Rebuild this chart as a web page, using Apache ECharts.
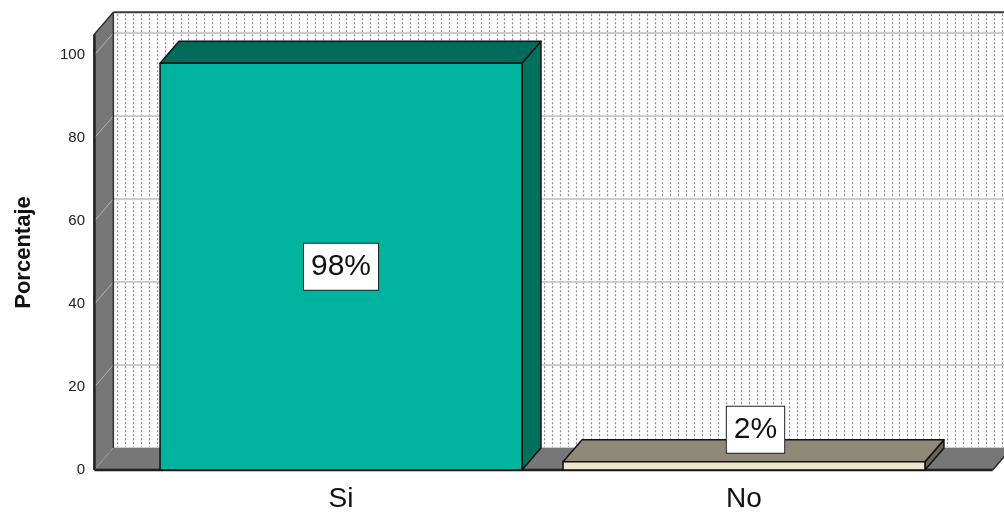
<!DOCTYPE html>
<html>
<head>
<meta charset="utf-8">
<script src="https://cdn.jsdelivr.net/npm/echarts@6/dist/echarts.min.js"></script>
<style>
  html, body { margin: 0; padding: 0; background: #fff; }
  #chart { width: 1004px; height: 513px; }
</style>
</head>
<body>
<div id="chart"></div>
<script>
// Survey answers and their share of respondents (%)
const categories = ['Si', 'No'];
const percentages = [98, 2];
// Value levels where the wall gridlines are drawn
const gridValues = [0, 20, 40, 60, 80, 100];
// Height of the back wall, in axis units
const wallTop = 105;

const FONT = '"Liberation Sans", Arial, sans-serif';
// 3D depth offset of the box, in pixels
const DX = 19, DY = 22;

// Face colours per bar: front, top, side
const barFaces = [
  { front: '#00b39e', top: '#006b5b', side: '#00715f' },
  { front: '#ede6cc', top: '#8f8a78', side: '#66634f' }
];

function renderFrame(params, api) {
  const band = api.size([1, 0])[0];
  const c0 = api.coord([0, 0]);
  const c1 = api.coord([categories.length - 1, 0]);
  const left = c0[0] - band * 0.612;
  const right = c1[0] + band * 0.617;
  const yBase = c0[1];
  const yTop = api.coord([0, wallTop])[1];
  const ch = [];

  // back wall
  ch.push({ type: 'rect', shape: { x: left + DX, y: yTop - DY, width: right - left + 40, height: yBase - yTop },
            style: { fill: '#ffffff' } });
  // dotted vertical pattern on the back wall
  for (let x = left + DX + 4; x < right + DX + 40; x += 7.9) {
    const px = Math.round(x) + 0.5;
    ch.push({ type: 'line', shape: { x1: px, y1: yTop - DY + 2, x2: px, y2: yBase - DY },
              style: { stroke: '#8a8a8a', lineWidth: 1.2, lineDash: [2, 2] } });
  }
  // horizontal gridlines on the back wall
  gridValues.forEach(v => {
    const y = api.coord([0, v])[1];
    ch.push({ type: 'line', shape: { x1: left + DX, y1: y - DY, x2: right + DX + 40, y2: y - DY },
              style: { stroke: '#cdcdcd', lineWidth: 2 } });
  });
  // left wall
  ch.push({ type: 'polygon', shape: { points: [[left, yTop], [left + DX, yTop - DY], [left + DX, yBase - DY], [left, yBase]] },
            style: { fill: '#777777' } });
  gridValues.forEach(v => {
    const y = api.coord([0, v])[1];
    ch.push({ type: 'line', shape: { x1: left, y1: y, x2: left + DX, y2: y - DY },
              style: { stroke: '#b4b4b4', lineWidth: 1 } });
  });
  // floor
  ch.push({ type: 'polygon', shape: { points: [[left, yBase], [left + DX, yBase - DY], [right + DX, yBase - DY], [right, yBase]] },
            style: { fill: '#777777' } });
  // edges
  const edge = (x1, y1, x2, y2, w, c) => ch.push({ type: 'line', shape: { x1, y1, x2, y2 },
                                                   style: { stroke: c || '#2a2a2a', lineWidth: w } });
  edge(left + DX, yTop - DY, right + DX + 40, yTop - DY, 2, '#3a3a3a');
  edge(left + DX, yTop - DY, left + DX, yBase - DY, 1.5, '#333');
  edge(left, yTop, left + DX, yTop - DY, 1.5, '#333');
  edge(left, yTop, left, yBase, 2.5, '#1e1e1e');
  edge(left, yBase, right, yBase, 2.5, '#1e1e1e');
  edge(right, yBase, right + DX, yBase - DY, 1.5, '#2a2a2a');
  return { type: 'group', children: ch };
}

function renderBar(params, api) {
  const idx = api.value(0);
  const val = api.value(1);
  const base = api.coord([idx, 0]);
  const top = api.coord([idx, val]);
  const hw = api.size([1, 0])[0] * 0.449;
  const x0 = base[0] - hw, x1 = base[0] + hw;
  const yb = base[1], yt = top[1];
  const f = barFaces[idx];
  const stroke = { stroke: '#111', lineWidth: 1.5, lineJoin: 'round' };
  const ch = [
    { type: 'polygon', shape: { points: [[x1, yt], [x1 + DX, yt - DY], [x1 + DX, yb - DY], [x1, yb]] },
      style: Object.assign({ fill: f.side }, stroke) },
    { type: 'polygon', shape: { points: [[x0, yt], [x0 + DX, yt - DY], [x1 + DX, yt - DY], [x1, yt]] },
      style: Object.assign({ fill: f.top }, stroke) },
    { type: 'rect', shape: { x: x0, y: yt, width: x1 - x0, height: yb - yt },
      style: Object.assign({ fill: f.front }, stroke) }
  ];
  // value label: inside the bar when tall, above its top face when short
  const inside = val >= 10;
  const lx = inside ? base[0] : base[0] + DX / 2 + 2;
  const ly = inside ? api.coord([idx, val / 2])[1] : yt - DY / 2 + 2;
  ch.push({
    type: 'text',
    x: lx, y: ly,
    style: {
      text: val + '%',
      font: '30px ' + FONT,
      fill: '#111',
      align: 'center',
      verticalAlign: inside ? 'middle' : 'bottom',
      lineHeight: 34,
      backgroundColor: '#ffffff',
      borderColor: '#222',
      borderWidth: 1,
      padding: [6, 7]
    },
    z2: 10
  });
  return { type: 'group', children: ch };
}

const chart = echarts.init(document.getElementById('chart'));
chart.setOption({
  animation: false,
  grid: { left: 139.5, right: 58.5, top: 55, bottom: 41.5 },
  xAxis: {
    type: 'category',
    data: categories,
    boundaryGap: true,
    axisLine: { show: false },
    axisTick: { show: false },
    axisLabel: { fontSize: 28, color: '#111', margin: 15, fontFamily: FONT }
  },
  yAxis: {
    type: 'value',
    min: 0, max: 100, interval: 20,
    offset: 44.5,
    axisLine: { show: false },
    axisTick: { show: false },
    splitLine: { show: false },
    axisLabel: { fontSize: 15, color: '#222', margin: 10, fontFamily: FONT, padding: [5, 0, 0, 0] },
    name: 'Porcentaje',
    nameLocation: 'middle',
    nameGap: 60,
    nameTextStyle: { fontSize: 22, fontWeight: 'bold', color: '#111', fontFamily: FONT, padding: [0, 0, 0, 20] }
  },
  series: [
    { type: 'custom', renderItem: renderFrame, data: [[0, 0]], z: 1, silent: true, clip: false },
    { type: 'custom', renderItem: renderBar, data: categories.map((c, i) => [i, percentages[i]]), z: 2, clip: false }
  ]
});
</script>
</body>
</html>
